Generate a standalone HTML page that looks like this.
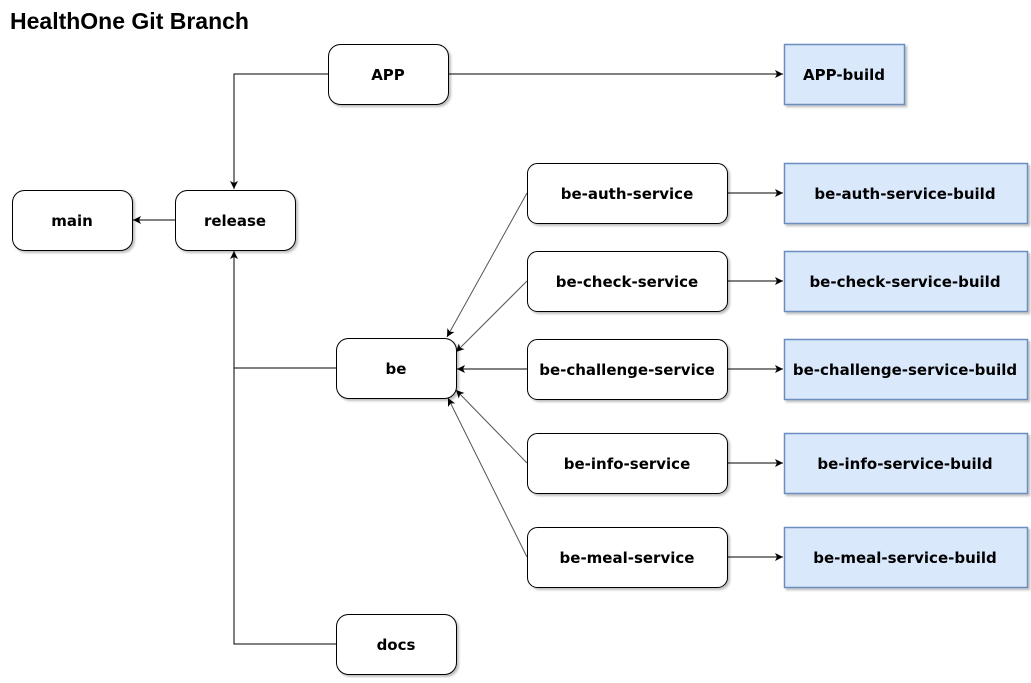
<!DOCTYPE html>
<html><head><meta charset="utf-8"><style>
body{margin:0;background:#fff;width:1031px;height:678px;overflow:hidden}
</style></head><body>
<svg width="1031" height="678" xmlns="http://www.w3.org/2000/svg" font-family="Liberation Sans, sans-serif">
<defs>
<marker id="a" markerWidth="10" markerHeight="10" refX="9" refY="5" orient="auto" markerUnits="userSpaceOnUse"><path d="M1,1 L9,5 L1,9 L3,5 Z" fill="#000"/></marker>
<marker id="g" markerWidth="10" markerHeight="10" refX="9" refY="5" orient="auto" markerUnits="userSpaceOnUse"><path d="M1,1 L9,5 L1,9 L3,5 Z" fill="#000"/></marker>
<filter id="s"><feDropShadow dx="2" dy="2" stdDeviation="1" flood-color="#000" flood-opacity="0.25"/></filter>
</defs>
<text x="10" y="29" font-size="23" font-weight="bold">HealthOne Git Branch</text>
<g fill="none" stroke="#000" stroke-width="1">
<path d="M328,74 H234 V189" marker-end="url(#a)"/>
<path d="M448,74 H783" marker-end="url(#a)"/>
<path d="M175,220 H133" marker-end="url(#a)"/>
<path d="M336,368 H234 V251" marker-end="url(#a)"/>
<path d="M336,644 H234 V368"/>
<path d="M727,193 H783" marker-end="url(#a)"/>
<path d="M727,281 H783" marker-end="url(#a)"/>
<path d="M727,369 H783" marker-end="url(#a)"/>
<path d="M727,463 H783" marker-end="url(#a)"/>
<path d="M727,557 H783" marker-end="url(#a)"/>
<path d="M527,369 H457" marker-end="url(#a)"/>
</g>
<g fill="none" stroke="#555" stroke-width="1">
<path d="M527,193 L447,337" marker-end="url(#g)"/>
<path d="M527,281 L456,352" marker-end="url(#g)"/>
<path d="M527,463 L456,390" marker-end="url(#g)"/>
<path d="M527,557 L448,398" marker-end="url(#g)"/>
</g>
<g stroke="#000" stroke-width="1" fill="#fff" filter="url(#s)">
<rect x="12.5" y="190.5" width="120" height="60" rx="12"/>
<rect x="175.5" y="190.5" width="120" height="60" rx="12"/>
<rect x="328.5" y="44.5" width="120" height="60" rx="12"/>
<rect x="336.5" y="338.5" width="120" height="60" rx="12"/>
<rect x="336.5" y="614.5" width="120" height="60" rx="12"/>
<rect x="527.5" y="163.5" width="200" height="60" rx="10"/>
<rect x="527.5" y="251.5" width="200" height="60" rx="10"/>
<rect x="527.5" y="339.5" width="200" height="60" rx="10"/>
<rect x="527.5" y="433.5" width="200" height="60" rx="10"/>
<rect x="527.5" y="527.5" width="200" height="60" rx="10"/>
</g>
<g stroke="#6c8ebf" stroke-width="1.5" fill="#dae8fc" filter="url(#s)">
<rect x="784.5" y="44.5" width="120" height="60"/>
<rect x="784.5" y="163.5" width="243" height="60"/>
<rect x="784.5" y="251.5" width="243" height="60"/>
<rect x="784.5" y="339.5" width="243" height="60"/>
<rect x="784.5" y="433.5" width="243" height="60"/>
<rect x="784.5" y="527.5" width="243" height="60"/>
</g>
<g font-size="15" font-weight="bold" text-anchor="middle" fill="#000" font-family="DejaVu Sans, sans-serif">
<text x="72" y="226">main</text>
<text x="235" y="226">release</text>
<text x="388" y="80">APP</text>
<text x="396" y="374">be</text>
<text x="396" y="650">docs</text>
<text x="627" y="199">be-auth-service</text>
<text x="627" y="287">be-check-service</text>
<text x="627" y="375">be-challenge-service</text>
<text x="627" y="469">be-info-service</text>
<text x="627" y="563">be-meal-service</text>
<text x="844" y="80">APP-build</text>
<text x="905" y="199">be-auth-service-build</text>
<text x="905" y="287">be-check-service-build</text>
<text x="905" y="375">be-challenge-service-build</text>
<text x="905" y="469">be-info-service-build</text>
<text x="905" y="563">be-meal-service-build</text>
</g>
</svg>
</body></html>
